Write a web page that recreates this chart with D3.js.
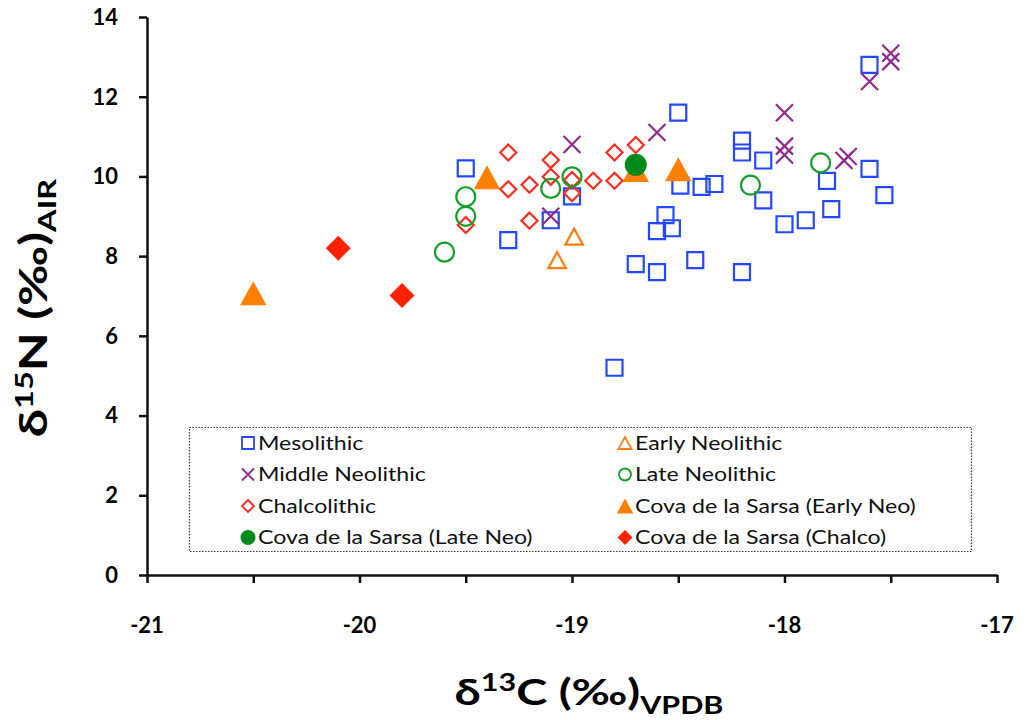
<!DOCTYPE html>
<html>
<head>
<meta charset="utf-8">
<script src="https://cdn.jsdelivr.net/npm/d3@7"></script>
<style>
  body { margin: 0; background: #fff; }
  text { font-family: Lato, "Open Sans", sans-serif; }
</style>
</head>
<body>
<script>
var width = 1030,
    height = 720;

// data: [d13C, d15N]
var mesolithic = [
  [-19.5, 10.2], [-19.3, 8.4], [-19.1, 8.9], [-19.0, 9.5], [-18.8, 5.2],
  [-18.5, 11.6], [-18.2, 10.9], [-18.2, 10.6], [-18.1, 10.4], [-18.49, 9.77],
  [-18.39, 9.74], [-18.33, 9.81], [-18.1, 9.4], [-18.56, 9.03], [-18.6, 8.63],
  [-18.53, 8.7], [-18.0, 8.8], [-17.9, 8.9], [-17.78, 9.18], [-17.8, 9.89],
  [-17.6, 10.19], [-17.53, 9.53], [-17.6, 12.8], [-18.7, 7.8], [-18.6, 7.6],
  [-18.42, 7.9], [-18.2, 7.6]
];
var middleNeolithic = [
  [-19.0, 10.8], [-19.1, 9.0], [-18.6, 11.1], [-18.0, 11.6], [-18.0, 10.76],
  [-18.0, 10.54], [-17.7, 10.5], [-17.72, 10.4], [-17.6, 12.38], [-17.5, 13.09],
  [-17.5, 12.88]
];
var chalcolithic = [
  [-19.3, 10.6], [-19.3, 9.68], [-19.2, 9.79], [-19.1, 10.41], [-19.1, 9.99],
  [-19.0, 9.91], [-19.0, 9.58], [-18.9, 9.89], [-18.8, 10.6], [-18.8, 9.89],
  [-18.7, 10.79], [-19.2, 8.89], [-19.5, 8.78]
];
var earlyNeolithic = [[-18.99, 8.49], [-19.07, 7.9]];
var lateNeolithic = [
  [-19.5, 9.49], [-19.5, 9.0], [-19.6, 8.1], [-19.1, 9.7], [-19.0, 9.99],
  [-18.16, 9.78], [-17.83, 10.34]
];
var sarsaEarlyNeo = [[-20.5, 7.07], [-19.4, 9.98], [-18.7, 10.16], [-18.5, 10.18]];
var sarsaLateNeo = [[-18.7, 10.29]];
var sarsaChalco = [[-20.1, 8.2], [-19.8, 7.01]];

var xTicks = [-21, -20.5, -20, -19.5, -19, -18.5, -18, -17.5, -17];
var xLabels = [-21, -20, -19, -18, -17];
var yTicks = [0, 2, 4, 6, 8, 10, 12, 14];

// marker shapes, s = full size in px
function shapePath(type, s) {
  var h = s / 2;
  if (type == "square") return "M" + -h + "," + -h + "h" + s + "v" + s + "h" + -s + "Z";
  if (type == "diamond") return "M0," + -h + "L" + h + ",0L0," + h + "L" + -h + ",0Z";
  if (type == "triangle") return "M0," + -h + "L" + (h * 1.1) + "," + h + "L" + (-h * 1.1) + "," + h + "Z";
  if (type == "cross") return "M" + -h + "," + -h + "L" + h + "," + h + "M" + h + "," + -h + "L" + -h + "," + h;
  if (type == "circle") return "M" + h + ",0A" + h + "," + h + " 0 1,1 " + -h + ",0A" + h + "," + h + " 0 1,1 " + h + ",0Z";
}

var series = [
  {name: "Mesolithic", data: mesolithic, shape: "square", size: 16, color: "#2348ff", filled: false},
  {name: "Middle Neolithic", data: middleNeolithic, shape: "cross", size: 17, color: "#8e2b8e", filled: false},
  {name: "Chalcolithic", data: chalcolithic, shape: "diamond", size: 16, color: "#ff2a1f", filled: false},
  {name: "Early Neolithic", data: earlyNeolithic, shape: "triangle", size: 16, color: "#ff7f0e", filled: false},
  {name: "Late Neolithic", data: lateNeolithic, shape: "circle", size: 19, color: "#12a02a", filled: false},
  {name: "Cova de la Sarsa (Early Neo)", data: sarsaEarlyNeo, shape: "triangle", size: 24, color: "#ff7f00", filled: true},
  {name: "Cova de la Sarsa (Late Neo)", data: sarsaLateNeo, shape: "circle", size: 22, color: "#008a1c", filled: true},
  {name: "Cova de la Sarsa (Chalco)", data: sarsaChalco, shape: "diamond", size: 25, color: "#ff2200", filled: true}
];
var legendOrder = [0, 3, 1, 4, 2, 5, 6, 7];

var margin = {left: 147, right: 33, top: 17, bottom: 145};

var x = d3.scaleLinear().domain([-21, -17]).range([margin.left, width - margin.right]);
var y = d3.scaleLinear().domain([0, 14]).range([height - margin.bottom, margin.top]);

var svg = d3.select("body").append("svg")
    .attr("width", width)
    .attr("height", height);

// legend box (drawn first, markers sit above it)
var legend = svg.append("g").attr("class", "legend");
legend.append("rect")
    .attr("x", 189.5).attr("y", 427.5)
    .attr("width", 782).attr("height", 124)
    .attr("fill", "#fff")
    .attr("stroke", "#333")
    .attr("stroke-width", 1.2)
    .attr("stroke-dasharray", "1.5,1.5");

legendOrder.forEach(function (si, k) {
  var s = series[si];
  var col = k % 2, row = Math.floor(k / 2);
  var lx = col == 0 ? 248 : 625;
  var ly = 443 + row * 31.5;
  var g = legend.append("g").attr("transform", "translate(" + lx + "," + ly + ")");
  g.append("path")
      .attr("d", shapePath(s.shape, s.filled ? 15 : 12))
      .attr("fill", s.filled ? s.color : "none")
      .attr("stroke", s.color)
      .attr("stroke-width", s.filled ? 0 : 1.8);
  g.append("text")
      .attr("transform", "translate(10,0) scale(1.25,1)")
      .attr("dy", "0.36em")
      .style("font-size", "18.5px")
      .attr("fill", "#111")
      .text(s.name);
});

// axes
var xAxis = svg.append("g")
    .attr("transform", "translate(0," + y(0) + ")")
    .call(d3.axisBottom(x).tickValues(xTicks).tickSize(8).tickSizeOuter(0).tickFormat(""));
var yAxis = svg.append("g")
    .attr("transform", "translate(" + x(-21) + ",0)")
    .call(d3.axisLeft(y).tickValues(yTicks).tickSize(8).tickSizeOuter(0).tickFormat(""));
svg.selectAll(".domain, .tick line").attr("stroke", "#111").attr("stroke-width", 2.5);

svg.selectAll(".xlab")
    .data(xLabels)
    .enter().append("text")
    .attr("x", function (d) { return x(d); })
    .attr("y", y(0) + 58)
    .attr("text-anchor", "middle")
    .style("font-size", "22px")
    .style("font-weight", "bold")
    .text(function (d) { return d; });

svg.selectAll(".ylab")
    .data(yTicks)
    .enter().append("text")
    .attr("x", x(-21) - 29)
    .attr("y", function (d) { return y(d); })
    .attr("dy", "0.36em")
    .attr("text-anchor", "end")
    .style("font-size", "22px")
    .style("font-weight", "bold")
    .text(function (d) { return d; });

// axis titles
var xt = svg.append("text")
    .attr("transform", "translate(589,705) scale(1.27,1)")
    .attr("text-anchor", "middle")
    .style("font-size", "37px")
    .style("font-weight", "bold");
xt.append("tspan").text("δ");
xt.append("tspan").attr("dy", -14).style("font-size", "24px").text("13");
xt.append("tspan").attr("dy", 14).text("C (‰)");
xt.append("tspan").attr("dy", 9).style("font-size", "24px").text("VPDB");

var yt = svg.append("text")
    .attr("transform", "translate(47,308) rotate(-90) scale(1.3,1)")
    .attr("text-anchor", "middle")
    .style("font-size", "39px")
    .style("font-weight", "bold");
yt.append("tspan").text("δ");
yt.append("tspan").attr("dy", -14).style("font-size", "25px").text("15");
yt.append("tspan").attr("dy", 14).text("N (‰)");
yt.append("tspan").attr("dy", 9).style("font-size", "25px").text("AIR");

// points
var groups = svg.selectAll(".series")
    .data(series)
    .enter().append("g")
    .attr("class", "series");

groups.selectAll("path")
    .data(function (s) { return s.data.map(function (d) { return {p: d, s: s}; }); })
    .enter().append("path")
    .attr("transform", function (d) { return "translate(" + x(d.p[0]) + "," + y(d.p[1]) + ")"; })
    .attr("d", function (d) { return shapePath(d.s.shape, d.s.size); })
    .attr("fill", function (d) { return d.s.filled ? d.s.color : "none"; })
    .attr("stroke", function (d) { return d.s.color; })
    .attr("stroke-width", function (d) { return d.s.filled ? 0 : 2.2; });
</script>
</body>
</html>
